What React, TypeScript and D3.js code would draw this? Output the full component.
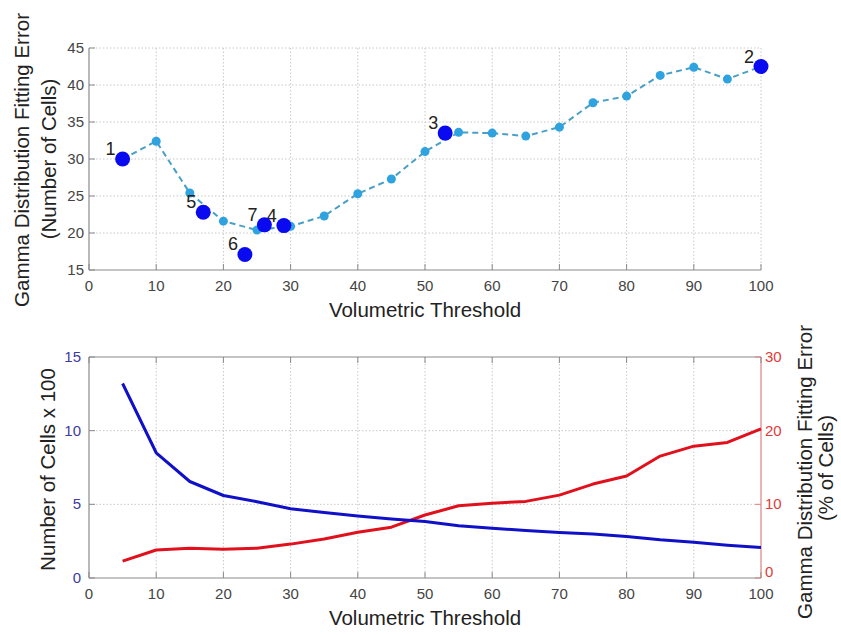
import { useEffect } from "react";
import * as d3 from "d3";

// ── Data ────────────────────────────────────────────────────────────────────
const thresholds = [5, 10, 15, 20, 25, 30, 35, 40, 45, 50, 55, 60, 65, 70, 75, 80, 85, 90, 95, 100];
const fitErrorCells = [30.0, 32.4, 25.4, 21.6, 20.4, 20.9, 22.3, 25.3, 27.3, 31.0, 33.6, 33.5, 33.1, 34.3, 37.6, 38.5, 41.3, 42.4, 40.8, 42.5];

const markedIds = ["1", "2", "3", "4", "5", "6", "7"];
const markedX = [5, 100, 53, 29, 17, 23.2, 26.1];
const markedY = [30.0, 42.5, 33.5, 21.0, 22.8, 17.1, 21.1];

const cellCount = [13.2, 8.5, 6.55, 5.6, 5.18, 4.7, 4.44, 4.21, 4.01, 3.83, 3.54, 3.38, 3.22, 3.09, 2.98, 2.82, 2.59, 2.43, 2.23, 2.07];
const fitErrorPct = [2.3, 3.8, 4.05, 3.9, 4.05, 4.6, 5.3, 6.2, 6.9, 8.55, 9.8, 10.15, 10.4, 11.25, 12.75, 13.85, 16.55, 17.9, 18.4, 20.25];

const xTicks = [0, 10, 20, 30, 40, 50, 60, 70, 80, 90, 100];
const topYTicks = [15, 20, 25, 30, 35, 40, 45];
const leftYTicks = [0, 5, 10, 15];
const rightYTicks = [0, 10, 20, 30];

// ── Layout ──────────────────────────────────────────────────────────────────
const W = 841;
const H = 635;
const X0 = 89;
const X1 = 761;
const TOP = { y0: 48, y1: 270 };
const BOT = { y0: 357, y1: 578 };
const FONT = "'Liberation Sans', Arial, Helvetica, sans-serif";
const TICK_FS = 15;
const LABEL_FS = 20.5;

const GRID = "#c8c8c8";
const AXIS = "#8a8a8a";

export default function App() {
  useEffect(() => {
    document.body.style.margin = "0";
  }, []);

  const x = d3.scaleLinear().domain([0, 100]).range([X0, X1]);
  const yTop = d3.scaleLinear().domain([15, 45]).range([TOP.y1, TOP.y0]);
  const yL = d3.scaleLinear().domain([0, 15]).range([BOT.y1, BOT.y0]);
  const yR = d3.scaleLinear().domain([0, 30]).range([BOT.y1, BOT.y0]);

  const topLine = d3.line<number>().x((_, i) => x(thresholds[i])).y(d => yTop(d));
  const cellLine = d3.line<number>().x((_, i) => x(thresholds[i])).y(d => yL(d));
  const pctLine = d3.line<number>().x((_, i) => x(thresholds[i])).y(d => yR(d));

  return (
    <svg width={W} height={H} style={{ display: "block", background: "#fff" }} fontFamily={FONT}>
      {/* ── Top panel ─────────────────────────────────────────────────────── */}
      <g>
        {xTicks.slice(1).map(t => (
          <line key={"tgx" + t} x1={x(t)} x2={x(t)} y1={TOP.y0} y2={TOP.y1}
            stroke={GRID} strokeWidth={1} strokeDasharray="1.5,2" />
        ))}
        {topYTicks.slice(1).map(t => (
          <line key={"tgy" + t} x1={X0} x2={X1} y1={yTop(t)} y2={yTop(t)}
            stroke={GRID} strokeWidth={1} strokeDasharray="1.5,2" />
        ))}
        <line x1={X0} x2={X0} y1={TOP.y0} y2={TOP.y1} stroke={AXIS} strokeWidth={1.2} />
        <line x1={X0} x2={X1} y1={TOP.y1} y2={TOP.y1} stroke={AXIS} strokeWidth={1.2} />
        {xTicks.map(t => (
          <g key={"ttx" + t}>
            <line x1={x(t)} x2={x(t)} y1={TOP.y1} y2={TOP.y1 - 6} stroke={AXIS} />
            <text x={x(t)} y={TOP.y1 + 21} textAnchor="middle" fontSize={TICK_FS} fill="#444">{t}</text>
          </g>
        ))}
        {topYTicks.map(t => (
          <g key={"tty" + t}>
            <line x1={X0} x2={X0 + 6} y1={yTop(t)} y2={yTop(t)} stroke={AXIS} />
            <text x={X0 - 5} y={yTop(t) + 5} textAnchor="end" fontSize={TICK_FS} fill="#444">{t}</text>
          </g>
        ))}

        <path d={topLine(fitErrorCells) ?? ""} fill="none" stroke="#4a9fc4" strokeWidth={2}
          strokeDasharray="6,4" />
        {fitErrorCells.map((v, i) => (
          <circle key={"td" + i} cx={x(thresholds[i])} cy={yTop(v)} r={4.5} fill="#2ea3e0" />
        ))}
        {markedX.map((mx, i) => (
          <g key={"mk" + i}>
            <circle cx={x(mx)} cy={yTop(markedY[i])} r={7.5} fill="#0a0af0" />
            <text x={x(mx) - 7} y={yTop(markedY[i]) - 4} textAnchor="end" fontSize={18} fill="#222">
              {markedIds[i]}
            </text>
          </g>
        ))}

        <text transform={`translate(29,${(TOP.y0 + TOP.y1) / 2 + 1}) rotate(-90)`} textAnchor="middle"
          fontSize={LABEL_FS} fill="#222">Gamma Distribution Fitting Error</text>
        <text transform={`translate(56,${(TOP.y0 + TOP.y1) / 2}) rotate(-90)`} textAnchor="middle"
          fontSize={LABEL_FS} fill="#222">(Number of Cells)</text>
        <text x={(X0 + X1) / 2} y={317} textAnchor="middle" fontSize={LABEL_FS} fill="#222">Volumetric Threshold</text>
      </g>

      {/* ── Bottom panel ──────────────────────────────────────────────────── */}
      <g>
        {xTicks.slice(1, -1).map(t => (
          <line key={"bgx" + t} x1={x(t)} x2={x(t)} y1={BOT.y0} y2={BOT.y1}
            stroke={GRID} strokeWidth={1} strokeDasharray="1.5,2" />
        ))}
        {leftYTicks.slice(1, -1).map(t => (
          <line key={"bgy" + t} x1={X0} x2={X1} y1={yL(t)} y2={yL(t)}
            stroke={GRID} strokeWidth={1} strokeDasharray="1.5,2" />
        ))}
        <line x1={X0} x2={X1} y1={BOT.y0} y2={BOT.y0} stroke={AXIS} strokeWidth={1.2} />
        <line x1={X0} x2={X0} y1={BOT.y0} y2={BOT.y1} stroke={AXIS} strokeWidth={1.2} />
        <line x1={X0} x2={X1} y1={BOT.y1} y2={BOT.y1} stroke={AXIS} strokeWidth={1.2} />
        <line x1={X1} x2={X1} y1={BOT.y0} y2={BOT.y1} stroke="#e08080" strokeWidth={1.2} />
        {xTicks.map(t => (
          <g key={"btx" + t}>
            <line x1={x(t)} x2={x(t)} y1={BOT.y1} y2={BOT.y1 - 6} stroke={AXIS} />
            <line x1={x(t)} x2={x(t)} y1={BOT.y0} y2={BOT.y0 + 6} stroke={AXIS} />
            <text x={x(t)} y={BOT.y1 + 21} textAnchor="middle" fontSize={TICK_FS} fill="#444">{t}</text>
          </g>
        ))}
        {leftYTicks.map(t => (
          <g key={"bly" + t}>
            <line x1={X0} x2={X0 + 6} y1={yL(t)} y2={yL(t)} stroke={AXIS} />
            <text x={X0 - 8} y={yL(t) + 5} textAnchor="end" fontSize={TICK_FS} fill="#3c3ca0">{t}</text>
          </g>
        ))}
        {rightYTicks.map(t => (
          <g key={"bry" + t}>
            <line x1={X1} x2={X1 - 6} y1={yR(t)} y2={yR(t)} stroke="#e08080" />
            <text x={X1 + 4} y={yR(t) + (t === 0 ? -1 : 5)} textAnchor="start" fontSize={TICK_FS} fill="#e03a3a">{t}</text>
          </g>
        ))}

        <path d={pctLine(fitErrorPct) ?? ""} fill="none" stroke="#e0101c" strokeWidth={3} strokeLinejoin="round" />
        <path d={cellLine(cellCount) ?? ""} fill="none" stroke="#1010c8" strokeWidth={3} strokeLinejoin="round" />

        <text transform={`translate(55,${(BOT.y0 + BOT.y1) / 2 + 2}) rotate(-90)`} textAnchor="middle"
          fontSize={LABEL_FS} fill="#222">Number of Cells x 100</text>
        <text transform={`translate(812,${472}) rotate(-90)`} textAnchor="middle"
          fontSize={LABEL_FS} fill="#222">Gamma Distribution Fitting Error</text>
        <text transform={`translate(833,${468}) rotate(-90)`} textAnchor="middle"
          fontSize={LABEL_FS} fill="#222">(% of Cells)</text>
        <text x={(X0 + X1) / 2} y={625} textAnchor="middle" fontSize={LABEL_FS} fill="#222">Volumetric Threshold</text>
      </g>
    </svg>
  );
}
